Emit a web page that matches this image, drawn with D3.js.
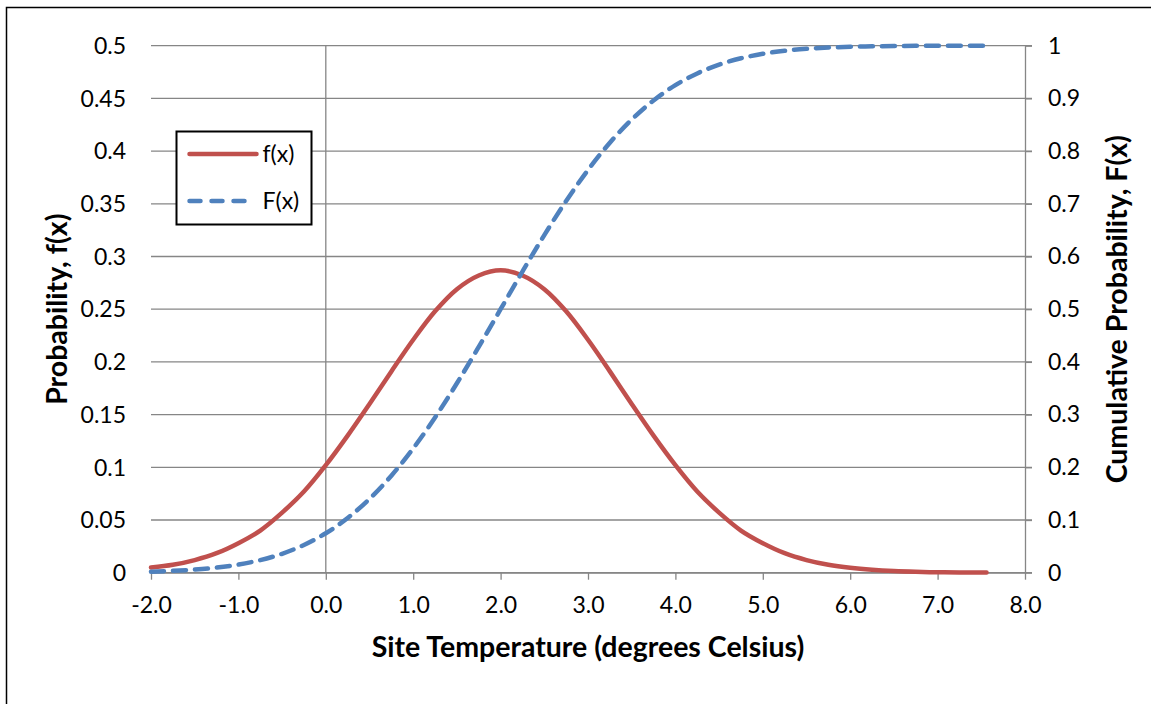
<!DOCTYPE html>
<html>
<head>
<meta charset="utf-8">
<script src="https://cdn.jsdelivr.net/npm/d3@7"></script>
<style>
  body { margin: 0; background: #fff; }
  svg { display: block; font-family: Lato, "Open Sans", sans-serif; }
</style>
</head>
<body>
<div id="chart"></div>
<script>
// site temperature (deg C)
const xValues = [-2, -1.75, -1.5, -1.25, -1, -0.75, -0.5, -0.25, 0, 0.25, 0.5, 0.75, 1, 1.25, 1.5, 1.75,
	2, 2.25, 2.5, 2.75, 3, 3.25, 3.5, 3.75, 4, 4.25, 4.5, 4.75, 5, 5.25, 5.5, 5.75, 6, 6.25, 6.5, 6.75,
	7, 7.25, 7.5, 7.56];
// probability f(x)
const pdfValues = [0.0050, 0.0075, 0.012, 0.0185, 0.028, 0.040, 0.057, 0.077, 0.102, 0.130, 0.160, 0.191,
	0.221, 0.248, 0.269, 0.282, 0.287, 0.282, 0.269, 0.248, 0.221, 0.191, 0.160, 0.130, 0.102, 0.077,
	0.057, 0.040, 0.028, 0.0185, 0.012, 0.0075, 0.0046, 0.0027, 0.0015, 0.0008, 0.0004, 0.0002, 0.0001,
	0.0001];
// cumulative probability F(x)
const cdfValues = [0.002, 0.0035, 0.0059, 0.0096, 0.0154, 0.0239, 0.0359, 0.0526, 0.0749, 0.1038, 0.1401,
	0.1841, 0.2358, 0.2946, 0.3594, 0.4286, 0.5, 0.5714, 0.6406, 0.7054, 0.7642, 0.8159, 0.8599, 0.8962,
	0.9251, 0.9474, 0.9641, 0.9761, 0.9846, 0.9904, 0.9941, 0.9965, 0.998, 0.9989, 0.9994, 0.9997,
	0.9998, 0.9999, 1.0, 1.0];

const xTicks = [-2, -1, 0, 1, 2, 3, 4, 5, 6, 7, 8];
const leftTicks = [0, 0.05, 0.1, 0.15, 0.2, 0.25, 0.3, 0.35, 0.4, 0.45, 0.5];
const rightTicks = [0, 0.1, 0.2, 0.3, 0.4, 0.5, 0.6, 0.7, 0.8, 0.9, 1];

const seriesNames = ["f(x)", "F(x)"];
const seriesColors = ["#C0504D", "#4F81BD"];

const W = 1151, H = 704;
const margin = { top: 45.7, right: 126, bottom: 131.3, left: 151 };
const width = W - margin.left - margin.right,
	height = H - margin.top - margin.bottom;

const svg = d3.select("#chart").append("svg").attr("width", W).attr("height", H);

// outer frame
svg.append("rect")
	.attr("x", 6.5).attr("y", 7.5)
	.attr("width", W + 20).attr("height", H + 20)
	.attr("fill", "none").attr("stroke", "#000").attr("stroke-width", 1.5);

const g = svg.append("g").attr("transform", `translate(${margin.left},${margin.top})`);

const x = d3.scaleLinear().domain([-2, 8]).range([0, width]);
const yL = d3.scaleLinear().domain([0, 0.5]).range([height, 0]);
const yR = d3.scaleLinear().domain([0, 1]).range([height, 0]);

const gridColor = "#868686";
const tickFont = "23px";
const titleFont = "28.5px";

// horizontal gridlines (extend past right axis as its ticks)
g.append("g")
	.selectAll("line")
	.data(leftTicks)
	.enter()
	.append("line")
	.attr("x1", 0)
	.attr("x2", width + 7)
	.attr("y1", (d) => yL(d))
	.attr("y2", (d) => yL(d))
	.attr("stroke", gridColor)
	.attr("stroke-width", 1.3);

// left tick labels
g.append("g")
	.selectAll("text")
	.data(leftTicks)
	.enter()
	.append("text")
	.attr("x", -25)
	.attr("y", (d) => yL(d))
	.attr("dy", "0.36em")
	.attr("text-anchor", "end")
	.style("font-size", tickFont)
	.text((d) => d3.format("~g")(d));

// vertical axis line at x = 0
g.append("line")
	.attr("x1", x(0)).attr("x2", x(0))
	.attr("y1", 0).attr("y2", height)
	.attr("stroke", gridColor).attr("stroke-width", 1.3);

// bottom axis
const xAxis = g.append("g")
	.attr("transform", `translate(0,${height})`)
	.call(d3.axisBottom(x).tickValues(xTicks).tickSize(7).tickSizeOuter(0).tickPadding(17)
		.tickFormat((d) => d3.format(".1f")(d).replace("\u2212", "-")));
xAxis.select(".domain").attr("stroke", gridColor).attr("stroke-width", 1.3);
xAxis.selectAll(".tick line").attr("stroke", gridColor).attr("stroke-width", 1.3);
xAxis.selectAll(".tick text").style("font-size", tickFont).style("font-family", "Lato").attr("fill", "#000");

// right axis
const rAxis = g.append("g")
	.attr("transform", `translate(${width},0)`)
	.call(d3.axisRight(yR).tickValues(rightTicks).tickSize(7).tickSizeOuter(0).tickPadding(16).tickFormat(d3.format("~g")));
rAxis.select(".domain").attr("stroke", gridColor).attr("stroke-width", 1.3);
rAxis.selectAll(".tick line").attr("stroke", gridColor).attr("stroke-width", 1.3);
rAxis.selectAll(".tick text").style("font-size", tickFont).style("font-family", "Lato").attr("fill", "#000");

// curves
const pts = xValues.map((v, i) => ({ x: v, f: pdfValues[i], F: cdfValues[i] }));

const linePdf = d3.line().x((d) => x(d.x)).y((d) => yL(d.f)).curve(d3.curveCatmullRom);
const lineCdf = d3.line().x((d) => x(d.x)).y((d) => yR(d.F)).curve(d3.curveCatmullRom);

g.append("path")
	.datum(pts)
	.attr("d", linePdf)
	.attr("fill", "none")
	.attr("stroke", seriesColors[0])
	.attr("stroke-width", 4.5)
	.attr("stroke-linecap", "round")
	.attr("stroke-linejoin", "round");

g.append("path")
	.datum(pts)
	.attr("d", lineCdf)
	.attr("fill", "none")
	.attr("stroke", seriesColors[1])
	.attr("stroke-width", 4.5)
	.attr("stroke-linecap", "round")
	.attr("stroke-dasharray", "13,9");

// axis titles
svg.append("text")
	.attr("x", margin.left + width / 2)
	.attr("y", 657)
	.attr("text-anchor", "middle")
	.style("font-size", titleFont)
	.style("font-weight", "bold")
	.text("Site Temperature (degrees Celsius)");

svg.append("text")
	.attr("transform", `translate(67,${margin.top + height / 2}) rotate(-90)`)
	.attr("text-anchor", "middle")
	.style("font-size", titleFont)
	.style("font-weight", "bold")
	.text("Probability, f(x)");

svg.append("text")
	.attr("transform", `translate(1127,${margin.top + height / 2}) rotate(-90)`)
	.attr("text-anchor", "middle")
	.style("font-size", titleFont)
	.style("font-weight", "bold")
	.text("Cumulative Probability, F(x)");

// legend
const legend = svg.append("g").attr("transform", "translate(176.5,131.5)");
legend.append("rect")
	.attr("width", 135).attr("height", 93)
	.attr("fill", "#fff").attr("stroke", "#000").attr("stroke-width", 2);

const legendRows = legend.selectAll("g.row")
	.data(seriesNames)
	.enter()
	.append("g")
	.attr("class", "row")
	.attr("transform", (d, i) => `translate(0,${22.5 + i * 47})`);

legendRows.append("line")
	.attr("x1", 13).attr("x2", (d, i) => (i === 0 ? 80 : 72))
	.attr("stroke", (d, i) => seriesColors[i])
	.attr("stroke-width", 4.5)
	.attr("stroke-linecap", "round")
	.attr("stroke-dasharray", (d, i) => (i === 0 ? null : "11,11"));

legendRows.append("text")
	.attr("x", 86)
	.attr("dy", "0.36em")
	.style("font-size", "23px")
	.text((d) => d);
</script>
</body>
</html>
